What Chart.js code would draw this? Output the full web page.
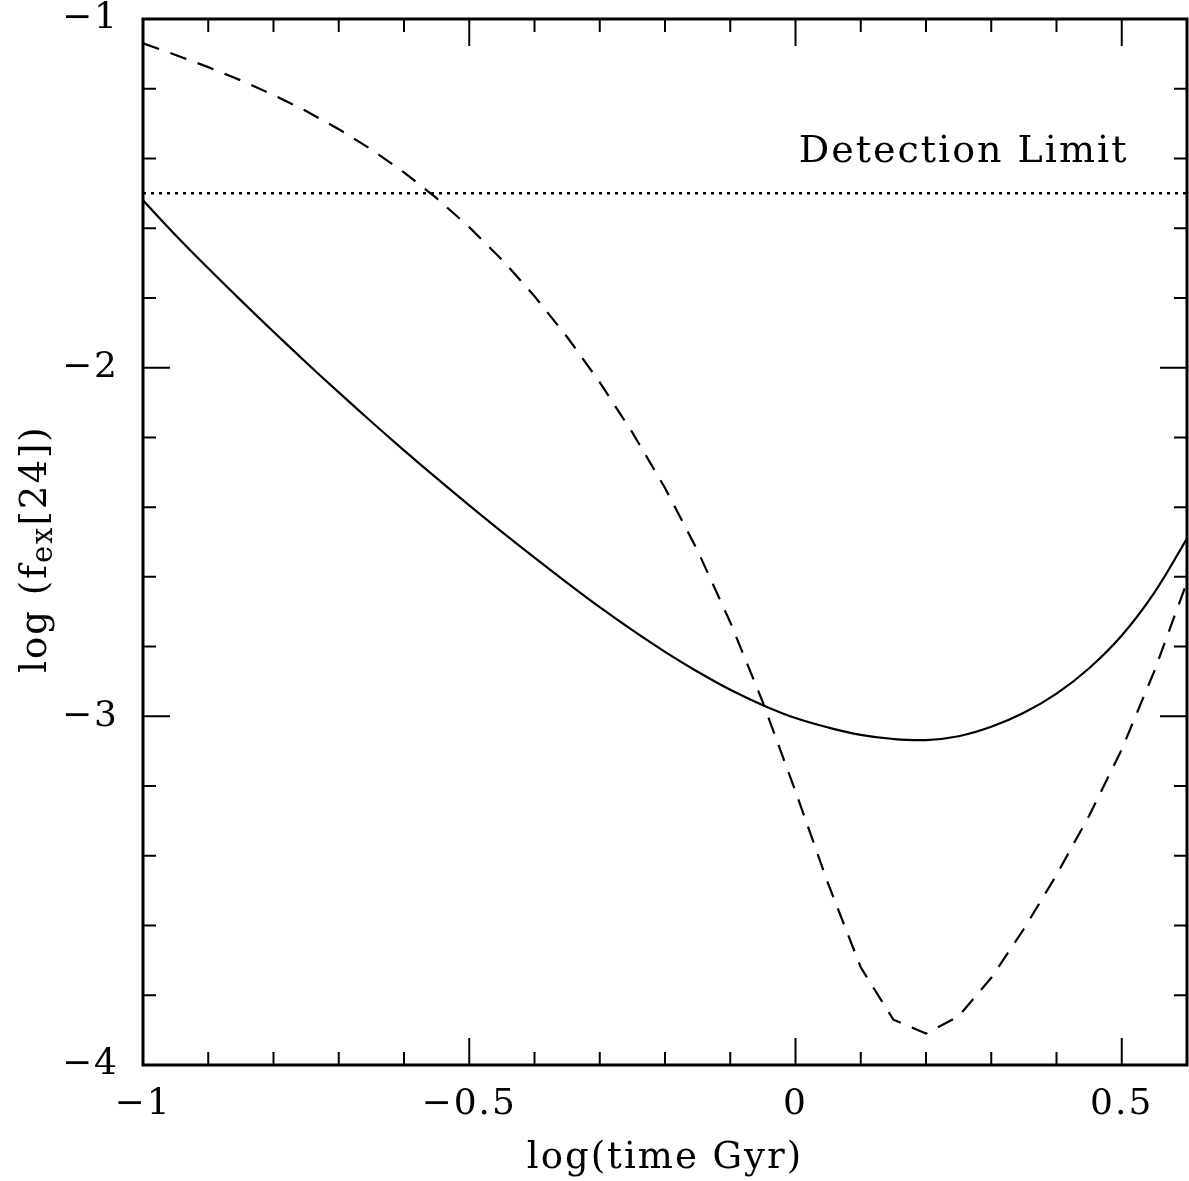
<!DOCTYPE html>
<html>
<head>
<meta charset="utf-8">
<script src="https://cdn.jsdelivr.net/npm/chart.js@4.4.1/dist/chart.umd.min.js"></script>
<style>
	html, body { margin: 0; padding: 0; background: #fff; }
	canvas { display: block; }
</style>
</head>
<body>
<canvas id="c" width="1189" height="1181"></canvas>
<script>
// log(time Gyr)
var logTime = [-1.00, -0.95, -0.90, -0.85, -0.80, -0.75, -0.70, -0.65, -0.60, -0.55,
	-0.50, -0.45, -0.40, -0.35, -0.30, -0.25, -0.20, -0.15, -0.10, -0.05,
	0.00, 0.05, 0.10, 0.15, 0.20, 0.25, 0.30, 0.35, 0.40, 0.45, 0.50, 0.55, 0.60];
// solid curve
var fluxSolid = [-1.520, -1.620, -1.715, -1.807, -1.897, -1.985, -2.071, -2.155, -2.237, -2.317,
	-2.395, -2.471, -2.545, -2.617, -2.687, -2.753, -2.815, -2.872, -2.924, -2.968,
	-3.005, -3.032, -3.053, -3.065, -3.068, -3.057, -3.030, -2.990, -2.935, -2.862, -2.768, -2.645, -2.490];
// dashed curve
var fluxDashed = [-1.070, -1.103, -1.138, -1.176, -1.218, -1.264, -1.316, -1.374, -1.440, -1.514,
	-1.597, -1.690, -1.795, -1.912, -2.042, -2.186, -2.345, -2.525, -2.730, -2.960,
	-3.215, -3.480, -3.720, -3.870, -3.910, -3.860, -3.750, -3.610, -3.455, -3.285, -3.095, -2.870, -2.615];
var detectionLimit = -1.5;
var detectionLabel = "Detection Limit";
var xTickValues = [-1, -0.5, 0, 0.5];
var yTickValues = [-4, -3, -2, -1];
var xMinorStep = 0.1;
var yMinorStep = 0.2;

var FONT = "'DejaVu Serif', 'Liberation Serif', serif";

function pts(ys) {
	return logTime.map(function(x, i) { return { x: x, y: ys[i] }; });
}
function fmt(v) {
	return String(v).replace("-", "\u2212");
}
function isMajor(v, step) {
	var r = v / step;
	return Math.abs(r - Math.round(r)) < 1e-6;
}

// frame, inward ticks on all four sides, label and y title
var decorations = {
	id: "decorations",
	beforeDraw: function(chart) {
		chart.ctx.letterSpacing = "2px";
	},
	afterDraw: function(chart) {
		var ctx = chart.ctx, a = chart.chartArea;
		var xs = chart.scales.x, ys = chart.scales.y;
		ctx.save();
		ctx.strokeStyle = "#000";
		ctx.lineWidth = 3;
		ctx.strokeRect(a.left, a.top, a.right - a.left, a.bottom - a.top);

		ctx.lineWidth = 2;
		ctx.beginPath();
		var n = Math.round((xs.max - xs.min) / xMinorStep);
		for (var k = 0; k <= n; k++) {
			var v = xs.min + k * xMinorStep;
			var px = xs.getPixelForValue(v);
			var len = isMajor(v, 0.5) ? 27 : 13;
			ctx.moveTo(px, a.bottom); ctx.lineTo(px, a.bottom - len);
			ctx.moveTo(px, a.top); ctx.lineTo(px, a.top + len);
		}
		n = Math.round((ys.max - ys.min) / yMinorStep);
		for (k = 0; k <= n; k++) {
			v = ys.min + k * yMinorStep;
			var py = ys.getPixelForValue(v);
			len = isMajor(v, 1) ? 27 : 13;
			ctx.moveTo(a.left, py); ctx.lineTo(a.left + len, py);
			ctx.moveTo(a.right, py); ctx.lineTo(a.right - len, py);
		}
		ctx.stroke();

		ctx.fillStyle = "#000";
		ctx.letterSpacing = "2px";
		ctx.font = "38px " + FONT;
		ctx.textAlign = "left";
		ctx.textBaseline = "alphabetic";
		ctx.fillText(detectionLabel, xs.getPixelForValue(0.005), ys.getPixelForValue(-1.41));

		// y title: log (f_ex[24])
		var mainFont = "37px " + FONT, subFont = "29px " + FONT;
		var parts = [["log (f", mainFont, 0], ["ex", subFont, 6], ["[24])", mainFont, 0]];
		var total = 0;
		parts.forEach(function(p) { ctx.font = p[1]; total += ctx.measureText(p[0]).width; });
		ctx.translate(46, 549);
		ctx.rotate(-Math.PI / 2);
		var x = -total / 2;
		parts.forEach(function(p) {
			ctx.font = p[1];
			ctx.fillText(p[0], x, p[2]);
			x += ctx.measureText(p[0]).width;
		});
		ctx.restore();
	}
};

new Chart(document.getElementById("c"), {
	type: "line",
	data: {
		datasets: [{
			label: "solid",
			data: pts(fluxSolid),
			borderColor: "#000",
			borderWidth: 2.2,
			pointRadius: 0,
			tension: 0.4,
			fill: false
		}, {
			label: "dashed",
			data: pts(fluxDashed),
			borderColor: "#000",
			borderWidth: 2.2,
			borderDash: [17, 12],
			pointRadius: 0,
			tension: 0,
			fill: false
		}, {
			label: "limit",
			data: [{ x: logTime[0], y: detectionLimit }, { x: logTime[logTime.length - 1], y: detectionLimit }],
			borderColor: "#000",
			borderWidth: 2.5,
			borderDash: [3, 5],
			pointRadius: 0,
			fill: false
		}]
	},
	options: {
		responsive: false,
		devicePixelRatio: 1,
		animation: false,
		layout: { padding: { top: 19, right: 2, left: 0, bottom: 0 } },
		plugins: { legend: { display: false }, tooltip: { enabled: false } },
		scales: {
			x: {
				type: "linear",
				min: -1,
				max: 0.6,
				grid: { display: false, drawTicks: false },
				border: { display: false },
				afterBuildTicks: function(s) { s.ticks = xTickValues.map(function(v) { return { value: v }; }); },
				afterFit: function(s) { s.height = 116; s.paddingLeft = 0; s.paddingRight = 0; },
				ticks: {
					color: "#000",
					font: { family: FONT, size: 36 },
					padding: 18,
					maxRotation: 0,
					autoSkip: false,
					callback: function(v) { return fmt(v); }
				},
				title: {
					display: true,
					text: "log(time Gyr)",
					color: "#000",
					font: { family: FONT, size: 37 },
					padding: { top: 0, bottom: 0 }
				}
			},
			y: {
				type: "linear",
				min: -4,
				max: -1,
				grid: { display: false, drawTicks: false },
				border: { display: false },
				afterBuildTicks: function(s) { s.ticks = yTickValues.map(function(v) { return { value: v }; }); },
				afterFit: function(s) { s.width = 143; s.paddingTop = 0; s.paddingBottom = 0; },
				ticks: {
					color: "#000",
					font: { family: FONT, size: 36 },
					padding: 24,
					autoSkip: false,
					callback: function(v) { return fmt(v); }
				}
			}
		}
	},
	plugins: [decorations]
});
</script>
</body>
</html>
